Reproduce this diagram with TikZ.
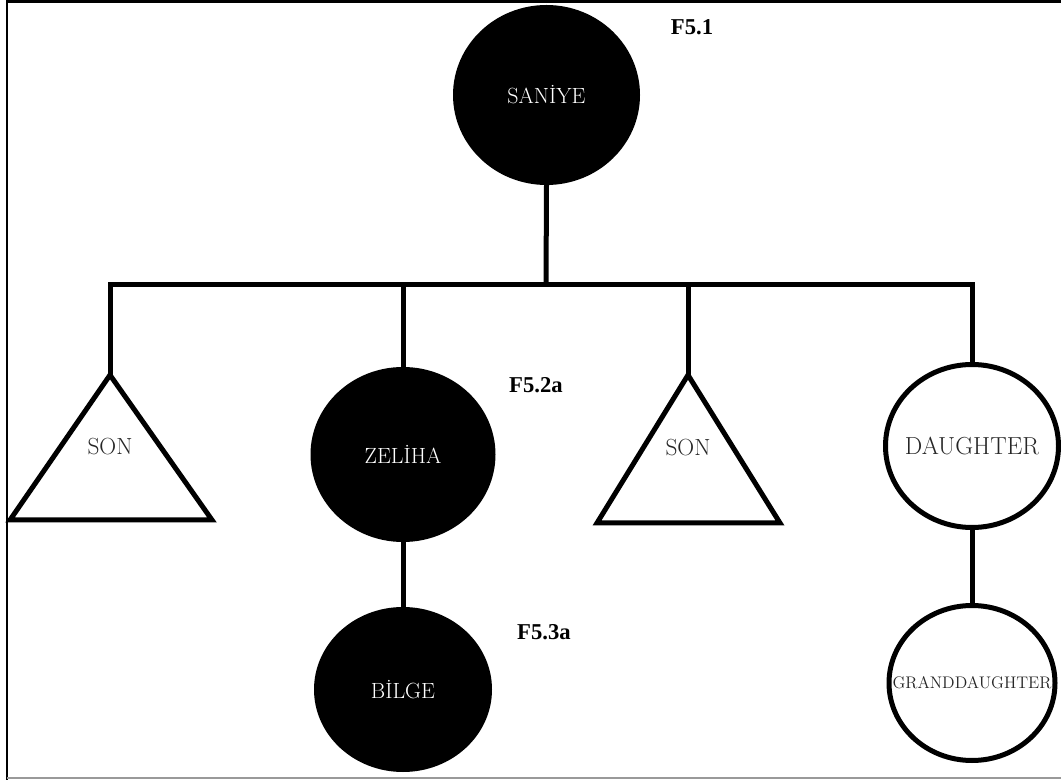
\documentclass[tikz,border=0pt]{standalone}
\usepackage{fontspec}
\newfontfamily\lblfont{Liberation Serif}
\usetikzlibrary{shapes.geometric}
\begin{document}
\begin{tikzpicture}[x=0.75pt,y=-0.75pt,
  thick line/.style={line width=3.75pt, line join=miter},
  sz/.style n args={2}{minimum width={#1*0.75pt}, minimum height={#2*0.75pt}},
  filled/.style={ellipse, draw=black, fill=black, thick line, inner sep=0pt},
  open/.style={ellipse, draw=black, fill=white, thick line, inner sep=0pt},
  wtext/.style={text=white, font=\fontsize{16.5}{18}\selectfont, inner sep=0pt},
  btext/.style={text=black!85, inner sep=0pt},
  tri/.style={draw=black, thick line},
  trilbl/.style={inner sep=0pt, text=black!85, font=\fontsize{17.5}{19}\selectfont},
  famlbl/.style={inner sep=0pt, font=\lblfont\bfseries\fontsize{17}{19}\selectfont}
]
\useasboundingbox (0,0) rectangle (1061,780);
% frame
\draw[line width=2.2pt] (7,780) -- (7,1.5) -- (1061,1.5);
\draw[line width=1.5pt, black!40] (7,778) -- (1061,778);

% nodes
\node[filled, sz={182}{175}, label={[wtext]center:SAN\.IYE}] (saniye) at (546.5,95) {};
\node[filled, sz={180}{170}, label={[wtext]center:ZEL\.IHA}] (zeliha) at (403,454.5) {};
\node[filled, sz={173}{160}, label={[wtext]center:B\.ILGE}] (bilge) at (403,689.5) {};
\node[open, sz={173}{163}, label={[btext, font=\fontsize{18.5}{20}\selectfont]center:DAUGHTER}] (daughter) at (972,446) {};
\node[open, sz={166}{155}, label={[btext, font=\fontsize{12.6}{14}\selectfont]center:GRANDDAUGHTER}] (grand) at (972,683) {};

% triangles
\node[trilbl] (son1) at (110,447) {SON};
\draw[tri] (110,375) coordinate (son1top) -- (212,520) -- (10,520) -- cycle;
\node[trilbl] (son2) at (688,448) {SON};
\draw[tri] (688,375) coordinate (son2top) -- (780,523) -- (597,523) -- cycle;

% labels
\node[famlbl] (f51) at (692,27) {F5.1};
\node[famlbl] (f52) at (536,385) {F5.2a};
\node[famlbl] (f53) at (544,632) {F5.3a};

% connectors
\coordinate (bar) at (546,285);
\draw[thick line] (saniye.south) -- (bar);
\draw[thick line] (son1top) -- (son1top |- bar) -- (daughter.north |- bar) -- (daughter.north);
\draw[thick line] (zeliha.north) -- (zeliha.north |- bar);
\draw[thick line] (son2top) -- (son2top |- bar);
\draw[thick line] (zeliha.south) -- (bilge.north);
\draw[thick line] (daughter.south) -- (grand.north);
\end{tikzpicture}
\end{document}
